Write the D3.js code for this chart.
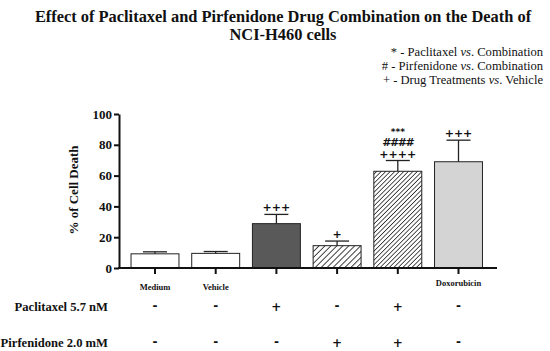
<!DOCTYPE html>
<html>
<head>
<meta charset="utf-8">
<script src="https://cdn.jsdelivr.net/npm/d3@7"></script>
<style>
  body { margin: 0; background: #fff; }
  svg text { font-family: "Liberation Serif", "Times New Roman", serif; fill: #111; }
</style>
</head>
<body>
<svg id="chart" width="550" height="351"></svg>
<script>
// Data
const groups = ["Medium", "Vehicle", "Paclitaxel", "Pirfenidone", "Combination", "Doxorubicin"];
const groupLabels = ["Medium", "Vehicle", "", "", "", "Doxorubicin"];
const means = [9.2, 9.5, 28.8, 14.5, 62.8, 69];
const errors = [1.3, 1.2, 6, 3, 7, 14];
const marks = [[], [], ["+++"], ["+"], ["***", "####", "++++"], ["+++"]];
const paclitaxelRow = ["-", "-", "+", "-", "+", "-"];
const pirfenidoneRow = ["-", "-", "-", "+", "+", "-"];
const yTicks = [0, 20, 40, 60, 80, 100];
const legendLines = [
    ["* - Paclitaxel ", "vs", ". Combination"],
    ["# - Pirfenidone ", "vs", ". Combination"],
    ["+ - Drug Treatments ", "vs", ". Vehicle"]
];

const svg = d3.select("#chart");
const fills = ["#ffffff", "#ffffff", "#595959", "url(#hatchWide)", "url(#hatchDense)", "#d4d4d4"];

// Hatch patterns
const defs = svg.append("defs");
function hatch(id, gap, w) {
    const p = defs.append("pattern")
        .attr("id", id)
        .attr("patternUnits", "userSpaceOnUse")
        .attr("width", gap).attr("height", gap)
        .attr("patternTransform", "rotate(45)");
    p.append("rect").attr("width", gap).attr("height", gap).attr("fill", "#fff");
    p.append("line")
        .attr("x1", 0).attr("y1", 0).attr("x2", 0).attr("y2", gap)
        .attr("stroke", "#2a2a2a").attr("stroke-width", w);
}
hatch("hatchWide", 4.2, 1.8);
hatch("hatchDense", 3.2, 1.6);

// Scales
const x = d3.scaleBand()
    .domain(groups)
    .range([124.65, 488.85])
    .paddingInner(0.21)
    .paddingOuter(0.105);

const y = d3.scaleLinear()
    .domain([0, 100])
    .range([268, 114]);

// Title
svg.append("text")
    .attr("x", 283).attr("y", 22)
    .attr("text-anchor", "middle")
    .style("font-size", "16.4px").style("font-weight", "bold")
    .text("Effect of Paclitaxel and Pirfenidone Drug Combination on the Death of");
svg.append("text")
    .attr("x", 283).attr("y", 40)
    .attr("text-anchor", "middle")
    .style("font-size", "16.4px").style("font-weight", "bold")
    .text("NCI-H460 cells");

// Legend
legendLines.forEach((parts, i) => {
    const t = svg.append("text")
        .attr("x", 543).attr("y", 56 + i * 14)
        .attr("text-anchor", "end")
        .style("font-size", "12.6px");
    t.append("tspan").text(parts[0]);
    t.append("tspan").style("font-style", "italic").text(parts[1]);
    t.append("tspan").text(parts[2]);
});

// Y axis
const yAxis = svg.append("g")
    .attr("transform", "translate(119,0)")
    .call(d3.axisLeft(y).tickValues(yTicks).tickSize(5).tickSizeOuter(0).tickPadding(2));
yAxis.select(".domain").attr("stroke", "#111").attr("stroke-width", 2);
yAxis.selectAll(".tick line").attr("stroke", "#111").attr("stroke-width", 2);
yAxis.selectAll(".tick text")
    .style("font-family", "'Liberation Serif', serif")
    .style("font-size", "13px").style("font-weight", "bold").attr("fill", "#111");

svg.append("text")
    .attr("transform", "translate(78,190) rotate(-90)")
    .attr("text-anchor", "middle")
    .style("font-size", "13px").style("font-weight", "bold")
    .text("% of Cell Death");

// Bars
const bars = svg.append("g");
bars.selectAll("rect")
    .data(groups)
    .join("rect")
    .attr("x", d => x(d))
    .attr("y", (d, i) => y(means[i]))
    .attr("width", x.bandwidth())
    .attr("height", (d, i) => y(0) - y(means[i]))
    .attr("fill", (d, i) => fills[i])
    .attr("stroke", "#222")
    .attr("stroke-width", 1);

// Error bars (upper only)
const errG = svg.append("g").attr("stroke", "#222").attr("stroke-width", 1.3);
groups.forEach((g, i) => {
    const cx = x(g) + x.bandwidth() / 2;
    errG.append("line")
        .attr("x1", cx).attr("x2", cx)
        .attr("y1", y(means[i])).attr("y2", y(means[i] + errors[i]));
    errG.append("line")
        .attr("x1", cx - 12).attr("x2", cx + 12)
        .attr("y1", y(means[i] + errors[i])).attr("y2", y(means[i] + errors[i]));
});

// Significance marks
groups.forEach((g, i) => {
    const cx = x(g) + x.bandwidth() / 2;
    const top = y(means[i] + errors[i]);
    const n = marks[i].length;
    marks[i].forEach((m, j) => {
        svg.append("text")
            .attr("x", cx)
            .attr("y", top - 3 - (n - 1 - j) * 11.5)
            .attr("text-anchor", "middle")
            .style("font-family", "'DejaVu Sans', sans-serif")
            .style("font-size", m[0] === "*" ? "9px" : "11px")
            .style("font-weight", "bold")
            .style("letter-spacing", m[0] === "#" ? "-1.5px" : "0px")
            .attr("fill", "#111")
            .text(m);
    });
});

// X axis
svg.append("line")
    .attr("x1", 118).attr("x2", 497)
    .attr("y1", y(0)).attr("y2", y(0))
    .attr("stroke", "#111").attr("stroke-width", 2);
const xAxis = svg.append("g")
    .attr("transform", `translate(0,${y(0)})`)
    .call(d3.axisBottom(x).tickSize(6).tickSizeOuter(0).tickFormat(""));
xAxis.select(".domain").remove();
xAxis.selectAll(".tick line").attr("stroke", "#111").attr("stroke-width", 2);

svg.append("g").selectAll("text")
    .data(groups)
    .join("text")
    .attr("x", d => x(d) + x.bandwidth() / 2)
    .attr("y", (d, i) => i === 5 ? 286 : 290)
    .attr("text-anchor", "middle")
    .style("font-size", "8.5px").style("font-weight", "bold")
    .text((d, i) => groupLabels[i]);

// Treatment rows
const rows = [
    { label: "Paclitaxel 5.7 nM", signs: paclitaxelRow, y: 306 },
    { label: "Pirfenidone 2.0 mM", signs: pirfenidoneRow, y: 342 }
];
rows.forEach(r => {
    svg.append("text")
        .attr("x", 108).attr("y", r.y + 4.5)
        .attr("text-anchor", "end")
        .style("font-size", "12.6px").style("font-weight", "bold")
        .text(r.label);
    svg.append("g").selectAll("text")
        .data(groups)
        .join("text")
        .attr("x", d => x(d) + x.bandwidth() / 2)
        .attr("y", (d, i) => r.y + (r.signs[i] === "+" ? 4.5 : 4))
        .attr("text-anchor", "middle")
        .style("font-family", "'DejaVu Sans', sans-serif")
        .style("font-size", "12px").style("font-weight", "bold")
        .attr("fill", "#111")
        .text((d, i) => r.signs[i]);
});
</script>
</body>
</html>
